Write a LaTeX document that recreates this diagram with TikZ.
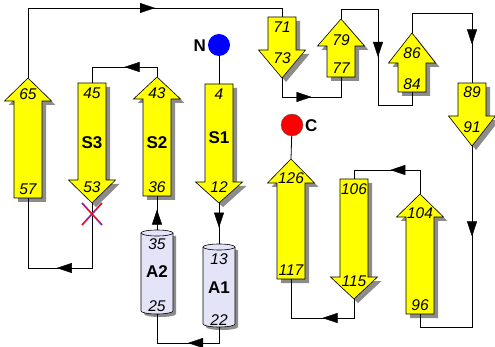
\documentclass[tikz,border=0pt]{standalone}
\usepackage{fontspec}
\setmainfont{Liberation Sans}
\usetikzlibrary{arrows.meta,decorations.markings,calc}
\definecolor{strandfill}{RGB}{255,255,0}
\definecolor{helixfill}{RGB}{228,228,248}
\definecolor{shadowcol}{RGB}{140,140,140}
\definecolor{nblue}{RGB}{0,0,255}
\definecolor{cred}{RGB}{255,0,0}
\tikzset{
  strand/.style={fill=strandfill,draw=black,line width=0.6pt,line join=miter},
  shadow/.style={fill=shadowcol,draw=none},
  helix/.style={fill=helixfill,draw=black,line width=0.6pt},
  conn/.style={draw=black,line width=0.8pt},
  midarrow/.style={postaction={decorate},decoration={markings,mark=at position #1 with {\arrow{Triangle[length=15pt,width=10pt]}}}},
  midarrow/.default=0.5,
  num/.style={font=\fontsize{15.5}{15.5}\selectfont\itshape,inner sep=0pt},
  lbl/.style={font=\fontsize{17}{17}\selectfont\bfseries,inner sep=0pt},
}
% #1 name, #2 x, #3 tip y, #4 head base y, #5 end y
\newcommand{\upstrand}[5]{%
  \fill[shadow,shift={(4,4)}] ({#2-14},#5) -- ({#2-14},#4) -- ({#2-23.5},#4) -- (#2,#3) -- ({#2+23.5},#4) -- ({#2+14},#4) -- ({#2+14},#5) -- cycle;
  \draw[strand] ({#2-14},#5) -- ({#2-14},#4) -- ({#2-23.5},#4) -- (#2,#3) -- ({#2+23.5},#4) -- ({#2+14},#4) -- ({#2+14},#5) -- cycle;
  \coordinate (#1tip) at (#2,#3);
  \coordinate (#1end) at (#2,#5);
}
\newcommand{\downstrand}[5]{%
  \fill[shadow,shift={(4,4)}] ({#2-14},#5) -- ({#2-14},#4) -- ({#2-23.5},#4) -- (#2,#3) -- ({#2+23.5},#4) -- ({#2+14},#4) -- ({#2+14},#5) -- cycle;
  \draw[strand] ({#2-14},#5) -- ({#2-14},#4) -- ({#2-23.5},#4) -- (#2,#3) -- ({#2+23.5},#4) -- ({#2+14},#4) -- ({#2+14},#5) -- cycle;
  \coordinate (#1tip) at (#2,#3);
  \coordinate (#1end) at (#2,#5);
}
% #1 name, #2 left x, #3 right x, #4 top y, #5 bottom y
\newcommand{\helixcyl}[5]{%
  \fill[shadow,shift={(3,3)}] (#2,#4) -- (#2,#5) arc[start angle=180,end angle=360,x radius={(#3-#2)/2*1pt},y radius=3pt] -- (#3,#4) -- cycle;
  \draw[helix] (#2,#4) -- (#2,#5) arc[start angle=180,end angle=360,x radius={(#3-#2)/2*1pt},y radius=3pt] -- (#3,#4);
  \draw[helix] ({(#2+#3)/2},#4) ellipse[x radius={(#3-#2)/2*1pt},y radius=3pt];
  \coordinate (#1top) at ({(#2+#3)/2},{#4-3});
  \coordinate (#1bot) at ({(#2+#3)/2},{#5+3});
}
\begin{document}
\begin{tikzpicture}[x=1pt,y=-1pt]
\useasboundingbox (0,0) rectangle (495,347);
\fill[white] (0,0) rectangle (495,347);

% strands
\upstrand{s65}{28}{78}{101}{198}
\downstrand{s45}{92}{203}{180}{83}
\upstrand{s43}{157}{77}{99}{196}
\downstrand{s4}{219}{203}{182}{84}
\downstrand{s71}{282}{78}{50}{17}
\upstrand{s79}{341}{19}{46}{77}
\upstrand{s86}{412}{33}{63}{92}
\downstrand{s89}{472}{146}{116}{83}
\upstrand{s104}{420}{194}{217}{314}
\downstrand{s106}{354}{299}{277}{179}
\upstrand{s126}{291}{159}{183}{279}

% helices
\helixcyl{a2}{141}{173}{233}{311}
\helixcyl{a1}{203}{235}{247}{324}

% labels in strands
\node[num] (l65) at (28,94) {65};
\node[num] (l57) at (28,189) {57};
\node[num] (l45) at (92,93) {45};
\node[num] (l53) at (92,187) {53};
\node[lbl] (ls3) at (92,143) {S3};
\node[num] (l43) at (157,93) {43};
\node[num] (l36) at (157,187) {36};
\node[lbl] (ls2) at (157,143) {S2};
\node[num] (l4) at (219,94) {4};
\node[num] (l12) at (219,187) {12};
\node[lbl] (ls1) at (219,138) {S1};
\node[num] (l71) at (282,27) {71};
\node[num] (l73) at (282,58) {73};
\node[num] (l79) at (341,40) {79};
\node[num] (l77) at (341,68) {77};
\node[num] (l86) at (412,53) {86};
\node[num] (l84) at (412,84) {84};
\node[num] (l89) at (472,92) {89};
\node[num] (l91) at (472,127) {91};
\node[num] (l126) at (291,178) {126};
\node[num] (l117) at (291,270) {117};
\node[num] (l106) at (354,189) {106};
\node[num] (l115) at (354,281) {115};
\node[num] (l104) at (420,213) {104};
\node[num] (l96) at (420,305) {96};
\node[num] (l35) at (157,244) {35};
\node[lbl] (la2) at (157,272) {A2};
\node[num] (l25) at (157,306) {25};
\node[num] (l13) at (219,259) {13};
\node[lbl] (la1) at (219,288) {A1};
\node[num] (l22) at (219,320) {22};

% termini
\node[circle,fill=nblue,minimum size=22pt,inner sep=0pt] (nterm) at (219,45) {};
\node[lbl,anchor=east] (nlab) at (206,46) {N};
\node[circle,fill=cred,draw=black!60,line width=0.4pt,minimum size=22pt,inner sep=0pt] (cterm) at (292,125) {};
\node[lbl,anchor=west] (clab) at (305,126) {C};
\draw[conn] (nterm) -- (s4end);
\draw[conn] (cterm) -- (s126tip);

% connectors
\coordinate (c1a) at (28,8);  \coordinate (c1b) at (282,8);
\draw[conn] (s65tip) -- (c1a) -- (c1b) -- (s71end);
\path[midarrow] (c1a) -- (c1b);

\coordinate (c2a) at (157,67); \coordinate (c2b) at (92,67);
\draw[conn] (s43tip) -- (c2a) -- (c2b) -- (s45end);
\path[midarrow] (c2a) -- (c2b);

\coordinate (c3a) at (28,268); \coordinate (c3b) at (92,268);
\draw[conn] (s65end) -- (c3a) -- (c3b) -- (s45tip);
\path[midarrow=0.55] (c3b) -- (c3a);

\coordinate (c4a) at (282,97); \coordinate (c4b) at (341,97);
\draw[conn] (s71tip) -- (c4a) -- (c4b) -- (s79end);
\path[midarrow] (c4a) -- (c4b);

\coordinate (c5a) at (341,9); \coordinate (c5b) at (378,9);
\coordinate (c5c) at (378,105); \coordinate (c5d) at (412,105);
\draw[conn] (s79tip) -- (c5a) -- (c5b) -- (c5c) -- (c5d) -- (s86end);
\path[midarrow=0.5] (c5b) -- (c5c);

\coordinate (c6a) at (412,13); \coordinate (c6b) at (472,13);
\draw[conn] (s86tip) -- (c6a) -- (c6b) -- (s89end);
\path[midarrow=0.45] (c6b) -- (s89end);

\coordinate (c7a) at (472,327); \coordinate (c7b) at (420,327);
\draw[conn] (s89tip) -- (c7a) -- (c7b) -- (s104end);
\path[midarrow=0.5] (s89tip) -- (c7a);

\coordinate (c8a) at (420,170); \coordinate (c8b) at (354,170);
\draw[conn] (s104tip) -- (c8a) -- (c8b) -- (s106end);
\path[midarrow=0.45] (c8a) -- (c8b);

\coordinate (c9a) at (354,318); \coordinate (c9b) at (291,318);
\draw[conn] (s106tip) -- (c9a) -- (c9b) -- (s126end);
\path[midarrow] (c9a) -- (c9b);

\draw[conn] (a2top) -- (s43end);
\path[midarrow=0.6] (a2top) -- (s43end);

\draw[conn] (s4tip) -- (a1top);
\path[midarrow=0.6] (s4tip) -- (a1top);

\coordinate (c10a) at (157,343); \coordinate (c10b) at (219,343);
\draw[conn] (a2bot) -- (c10a) -- (c10b) -- (a1bot);
\path[midarrow] (c10b) -- (c10a);

% cross mark
\coordinate (xc) at (92,214);
\draw[blue!60,line width=1.8pt] ($(xc)+(-10,-11)$) -- ($(xc)+(10,11)$) ($(xc)+(-10,11)$) -- ($(xc)+(10,-11)$);
\draw[cred,line width=1pt] ($(xc)+(-10,-11)$) -- ($(xc)+(10,11)$) ($(xc)+(-10,11)$) -- ($(xc)+(10,-11)$);
\end{tikzpicture}
\end{document}
